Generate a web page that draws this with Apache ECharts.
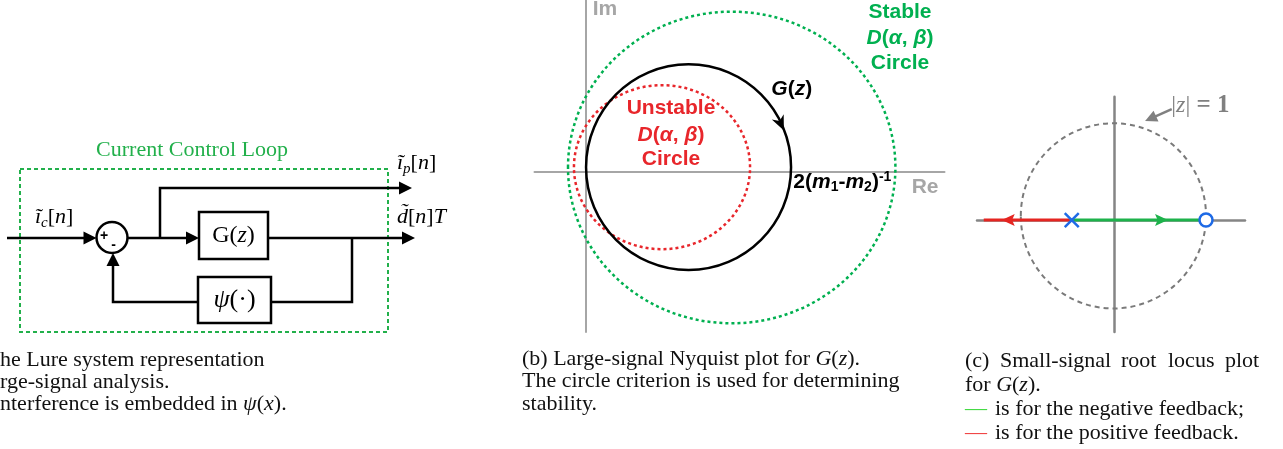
<!DOCTYPE html>
<html><head><meta charset="utf-8">
<script src="https://cdn.jsdelivr.net/npm/echarts@6/dist/echarts.min.js"></script>
<style>html,body{margin:0;padding:0;background:#fff;}#c{width:1283px;height:449px;}</style>
</head><body><div id="c"></div>
<script>
// ===== Panel (a): block diagram (diagram units) =====
const aXRange = [0, 46];
const aYRange = [0, 22];
const loopBox = [[2.0, 3.9, 38.8, 20.2]];
const blocks = [[19.9, 8.2, 26.8, 12.9], [19.8, 14.7, 27.1, 19.3]];
const sumJunction = [[11.2, 10.75, 1.55, 1.55]];
const wires = [
  [[0.7, 10.8], [9.65, 10.8]],
  [[12.75, 10.8], [19.9, 10.8]],
  [[16.0, 10.8], [16.0, 5.8], [41.2, 5.8]],
  [[26.8, 10.8], [41.5, 10.8]],
  [[35.2, 10.8], [35.2, 17.2], [27.1, 17.2]],
  [[19.8, 17.2], [11.3, 17.2], [11.3, 12.3]]
];
const wireArrow = [1, 1, 1, 1, 0, 1];
const aLabelText = [
  'Current Control Loop',
  '{i|ĩ}{s|c}{r|[}{i|n}{r|]}',
  '{i|ĩ}{s|p}{r|[}{i|n}{r|]}',
  '{i|d̃}{r|[}{i|n}{r|]}{i|T}',
  '{r|G(}{i|z}{r|)}',
  '{i|ψ}{r|(·)}',
  '+', '-'
];
const aLabelAt = [[19.2, 2.0], [3.5, 8.7], [39.7, 3.3], [39.7, 8.7], [23.35, 10.6], [23.45, 17.0], [10.4, 10.6], [11.35, 11.5]];

// ===== Panel (b): Nyquist plot (Re, Im) =====
const nyqRe = [-0.5, 3.5];
const nyqIm = [-1.566, 1.673];
const gCircle = [[1.003, 0.042, 1.0, 1.003]];
const unstableCircle = [[0.744, 0.042, 0.859, 0.80]];
const stableCircle = [[1.424, 0.039, 1.597, 1.52]];
const gArrow = [[1.869, 0.543], [1.933, 0.400]];

// ===== Panel (c): root locus (Re z, Im z) =====
const rlRe = [-1.483, 1.411];
const rlIm = [-1.209, 1.332];
const unitCircle = [[-0.01, 0.045, 1.0, 1.0]];
const negLocus = [[-0.46, 0], [0.99, 0]];
const posLocus = [[-0.46, 0], [-1.41, 0]];
const negArrow = [[0.45, 0], [0.58, 0]];
const posArrow = [[-1.10, 0], [-1.216, 0]];
const poles = [[-0.46, 0]];
const zeros = [[0.99, 0]];
const unitArrow = [[0.62, 1.199], [0.332, 1.069]];

const SERIF = '"Liberation Serif","Times New Roman",serif';
const SANS = '"Liberation Sans",Arial,sans-serif';
function tok(size, fam, st, wt, fill, extra) {
  return Object.assign({fontSize: size, fontFamily: fam, fontStyle: st, fontWeight: wt, fill: fill}, extra || {});
}
function arrowPts(tip, from, len, half, notch) {
  const dx = tip[0] - from[0], dy = tip[1] - from[1], d = Math.hypot(dx, dy);
  const ux = dx / d, uy = dy / d, px = -uy, py = ux;
  const bx = tip[0] - ux * len, by = tip[1] - uy * len;
  const pts = [tip, [bx + px * half, by + py * half]];
  if (notch) pts.push([tip[0] - ux * len * (1 - notch), tip[1] - uy * len * (1 - notch)]);
  pts.push([bx - px * half, by - py * half]);
  return pts;
}
function custom(idx, data, render, z) {
  return {type: 'custom', coordinateSystem: 'cartesian2d', xAxisIndex: idx, yAxisIndex: idx,
    data: data, renderItem: render, clip: false, silent: true, z: z || 2};
}
function rectRender(style) {
  return function (params, api) {
    const a = api.coord([api.value(0), api.value(1)]), b = api.coord([api.value(2), api.value(3)]);
    return {type: 'rect', shape: {x: Math.min(a[0], b[0]), y: Math.min(a[1], b[1]), width: Math.abs(b[0] - a[0]), height: Math.abs(b[1] - a[1])},
      style: Object.assign({fill: null}, style)};
  };
}
function ellipseRender(style) {
  return function (params, api) {
    const c = api.coord([api.value(0), api.value(1)]);
    const s = api.size([api.value(2), api.value(3)]);
    return {type: 'ellipse', shape: {cx: c[0], cy: c[1], rx: Math.abs(s[0]), ry: Math.abs(s[1])},
      style: Object.assign({fill: null}, style)};
  };
}
function pathRender(pts, color, width, arrow, head) {
  return function (params, api) {
    const p = pts.map(q => api.coord(q));
    const children = [];
    const lp = p.slice();
    if (arrow) {
      const tip = p[p.length - 1], prev = p[p.length - 2];
      const dx = tip[0] - prev[0], dy = tip[1] - prev[1], d = Math.hypot(dx, dy);
      lp[lp.length - 1] = [tip[0] - dx / d * head[0] * 0.8, tip[1] - dy / d * head[0] * 0.8];
      children.push({type: 'polygon', shape: {points: arrowPts(tip, prev, head[0], head[1], head[2])}, style: {fill: color}});
    }
    children.unshift({type: 'polyline', shape: {points: lp}, style: {stroke: color, lineWidth: width, fill: null}});
    return {type: 'group', children: children};
  };
}
function headRender(pair, color, head) {
  return function (params, api) {
    const a = api.coord(pair[0]), b = api.coord(pair[1]);
    return {type: 'polygon', shape: {points: arrowPts(b, a, head[0], head[1], head[2])}, style: {fill: color}};
  };
}
function textRender(items) {
  return function (params, api) {
    const it = items[params.dataIndex];
    const c = api.coord(it.p);
    return {type: 'text', x: c[0], y: c[1], style: Object.assign({text: it.t, align: it.align || 'center', verticalAlign: 'middle'}, it.style)};
  };
}

// ----- label styles -----
const aRich = {
  i: tok(22, SERIF, 'italic', 'normal', '#000', {lineHeight: 28}),
  r: tok(22, SERIF, 'normal', 'normal', '#000', {lineHeight: 28}),
  s: tok(15, SERIF, 'italic', 'normal', '#000', {verticalAlign: 'bottom'})
};
const aStyles = [
  {fontSize: 22, fontFamily: SERIF, fill: '#22b04b'},
  {rich: aRich}, {rich: aRich}, {rich: aRich},
  {rich: {i: tok(24, SERIF, 'italic', 'normal', '#000'), r: tok(24, SERIF, 'normal', 'normal', '#000')}},
  {rich: {i: tok(26, SERIF, 'italic', 'normal', '#000'), r: tok(26, SERIF, 'normal', 'normal', '#000')}},
  {fontSize: 14, fontFamily: SANS, fontWeight: 'bold', fill: '#000'},
  {fontSize: 14, fontFamily: SANS, fontWeight: 'bold', fill: '#000'}
];
const aAlign = ['center', 'left', 'left', 'left', 'center', 'center', 'center', 'center'];
const aItems = aLabelText.map((t, i) => ({t: t, p: aLabelAt[i], align: aAlign[i], style: aStyles[i]}));

function bRich(color) {
  return {
    b: tok(21, SANS, 'normal', 'bold', color, {lineHeight: 24}),
    bi: tok(21, SANS, 'italic', 'bold', color, {lineHeight: 24}),
    bs: tok(14, SANS, 'normal', 'bold', color, {verticalAlign: 'bottom'}),
    bp: tok(14, SANS, 'normal', 'bold', color, {verticalAlign: 'top'})
  };
}
const GREEN_B = '#00b050', RED_B = '#e8262b', GRAY_B = '#a6a6a6';
const dab = '{bi|D}{b|(}{bi|α}{b|, }{bi|β}{b|)}';
const bItems = [
  {t: '{b|Im}', p: [0.068, 1.585], align: 'left', style: {rich: bRich(GRAY_B)}},
  {t: '{b|Stable}', p: [3.066, 1.553], style: {rich: bRich(GREEN_B)}},
  {t: dab, p: [3.066, 1.298], style: {rich: bRich(GREEN_B)}},
  {t: '{b|Circle}', p: [3.066, 1.056], style: {rich: bRich(GREEN_B)}},
  {t: '{b|Unstable}', p: [0.832, 0.617], style: {rich: bRich(RED_B)}},
  {t: dab, p: [0.832, 0.356], style: {rich: bRich(RED_B)}},
  {t: '{b|Circle}', p: [0.832, 0.119], style: {rich: bRich(RED_B)}},
  {t: '{bi|G}{b|(}{bi|z}{b|)}', p: [2.01, 0.802], style: {rich: bRich('#000')}},
  {t: '{b|2(}{bi|m}{bs|1}{b|-}{bi|m}{bs|2}{b|)}{bp|-1}', p: [2.025, -0.102], align: 'left', style: {rich: bRich('#000')}},
  {t: '{b|Re}', p: [3.18, -0.156], align: 'left', style: {rich: bRich(GRAY_B)}}
];
const GRAY_C = '#808080', GREEN_C = '#1db24b', RED_C = '#e52521', BLUE_C = '#1e6ae6';
const cItems = [
  {t: '{r||}{i|z}{r||}{b| = 1}', p: [0.615, 1.236], align: 'left', style: {rich: {
    r: tok(24, SERIF, 'normal', 'normal', GRAY_C), i: tok(24, SERIF, 'italic', 'normal', GRAY_C), b: tok(25, SERIF, 'normal', 'bold', GRAY_C)}}}
];

const valueAxis = (idx, range, color, width, inverse) => ({
  gridIndex: idx, type: 'value', min: range[0], max: range[1], inverse: !!inverse,
  axisLine: {show: !!color, onZero: true, lineStyle: {color: color || '#000', width: width || 1}},
  axisTick: {show: false}, axisLabel: {show: false}, splitLine: {show: false}
});

const series = [
  // (a)
  custom(0, loopBox, rectRender({stroke: '#22b04b', lineWidth: 2, lineDash: [4, 3]})),
  custom(0, blocks, rectRender({stroke: '#000', lineWidth: 2.5})),
  custom(0, sumJunction, ellipseRender({stroke: '#000', lineWidth: 2.5})),
];
wires.forEach((w, i) => series.push(custom(0, [[0]], pathRender(w, '#000', 2.5, wireArrow[i], [13, 6.5, 0]), 3)));
series.push(custom(0, aItems.map((_, i) => [i]), textRender(aItems), 5));
// (b)
series.push(custom(1, stableCircle, ellipseRender({stroke: GREEN_B, lineWidth: 2.5, lineDash: [3, 3]})));
series.push(custom(1, unstableCircle, ellipseRender({stroke: RED_B, lineWidth: 2.5, lineDash: [3, 3]})));
series.push(custom(1, gCircle, ellipseRender({stroke: '#000', lineWidth: 2.5})));
series.push(custom(1, [[0]], headRender(gArrow, '#000', [15, 6.5, 0.3]), 4));
series.push(custom(1, bItems.map((_, i) => [i]), textRender(bItems), 5));
// (c)
series.push(custom(2, unitCircle, ellipseRender({stroke: '#7a7a7a', lineWidth: 2, lineDash: [5, 4]})));
series.push(custom(2, [[0]], pathRender(posLocus, RED_C, 3, 0), 3));
series.push(custom(2, [[0]], pathRender(negLocus, GREEN_C, 3, 0), 3));
series.push(custom(2, [[0]], headRender(posArrow, RED_C, [13, 6, 0.2]), 4));
series.push(custom(2, [[0]], headRender(negArrow, GREEN_C, [13, 6, 0.2]), 4));
series.push(custom(2, poles, function (params, api) {
  const c = api.coord([api.value(0), api.value(1)]), h = 7;
  return {type: 'group', children: [
    {type: 'line', shape: {x1: c[0] - h, y1: c[1] - h, x2: c[0] + h, y2: c[1] + h}, style: {stroke: BLUE_C, lineWidth: 2.5}},
    {type: 'line', shape: {x1: c[0] - h, y1: c[1] + h, x2: c[0] + h, y2: c[1] - h}, style: {stroke: BLUE_C, lineWidth: 2.5}}
  ]};
}, 6));
series.push(custom(2, zeros, function (params, api) {
  const c = api.coord([api.value(0), api.value(1)]);
  return {type: 'circle', shape: {cx: c[0], cy: c[1], r: 6.5}, style: {fill: '#fff', stroke: BLUE_C, lineWidth: 2.5}};
}, 6));
series.push(custom(2, [[0]], pathRender(unitArrow, GRAY_C, 2.5, 1, [12, 6, 0]), 4));
series.push(custom(2, cItems.map((_, i) => [i]), textRender(cItems), 5));

// ===== captions =====
const capRich = {
  m: tok(22, SERIF, 'italic', 'normal', '#111'),
  r: tok(22, SERIF, 'normal', 'normal', '#111'),
  g: tok(22, SERIF, 'normal', 'normal', '#3cd83c'),
  d: tok(22, SERIF, 'normal', 'normal', '#f03c3c')
};
const captions = [
  [0, 360, 'he Lure system representation'],
  [0, 382.5, 'rge-signal analysis.'],
  [0, 404.5, 'nterference is embedded in {m|ψ}{r|(}{m|x}{r|).}'],
  [522, 359, '(b) Large-signal Nyquist plot for {m|G}{r|(}{m|z}{r|).}'],
  [522, 381.5, 'The circle criterion is used for determining'],
  [522, 404, 'stability.'],
  [965, 361, '(c)'], [1000, 361, 'Small-signal'], [1121, 361, 'root'], [1168, 361, 'locus'], [1225, 361, 'plot'],
  [965, 385, 'for {m|G}{r|(}{m|z}{r|).}'],
  [965, 409, '{g|—}'], [995, 409, 'is for the negative feedback;'],
  [965, 433, '{d|—}'], [995, 433, 'is for the positive feedback.']
];

const chart = echarts.init(document.getElementById('c'));
chart.setOption({
  animation: false,
  backgroundColor: '#fff',
  grid: [
    {left: 0, top: 130, width: 460, height: 220},
    {left: 534.5, top: 0, width: 410, height: 332},
    {left: 977, top: 96.7, width: 268, height: 235.3}
  ],
  xAxis: [valueAxis(0, aXRange), valueAxis(1, nyqRe, GRAY_B, 2), valueAxis(2, rlRe, '#858585', 2.5)],
  yAxis: [valueAxis(0, aYRange, null, 0, true), valueAxis(1, nyqIm, GRAY_B, 2), valueAxis(2, rlIm, '#858585', 2.5)],
  series: series,
  graphic: {elements: captions.map(c => ({
    type: 'text', x: c[0], y: c[1], silent: true,
    style: {text: c[2], rich: capRich, fontSize: 22, fontFamily: SERIF, fill: '#111', align: 'left', verticalAlign: 'middle'}
  }))}
});
</script></body></html>
